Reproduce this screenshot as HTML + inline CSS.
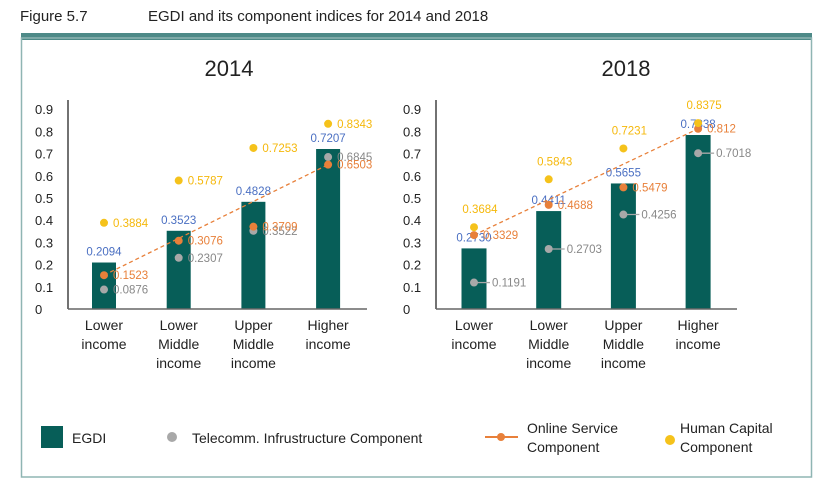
<!DOCTYPE html>
<html><head><meta charset="utf-8">
<style>
body{margin:0;background:#fff;width:830px;height:494px;overflow:hidden;font-family:"Liberation Sans",sans-serif;}
svg text{font-family:"Liberation Sans",sans-serif;}
</style></head>
<body>
<svg id="c" width="830" height="494" xmlns="http://www.w3.org/2000/svg">
<text x="20" y="21" font-size="15" fill="#222">Figure 5.7</text>
<text x="148" y="21" font-size="15" fill="#222">EGDI and its component indices for 2014 and 2018</text>
<rect x="21" y="33" width="791" height="7" fill="#4e8a88"/>
<rect x="21.5" y="38" width="790" height="439" fill="none" stroke="#8fb5b3" stroke-width="1.5"/>
<g id="legend">
<rect x="41" y="426" width="22" height="22" fill="#075e58"/>
<text x="72" y="443" font-size="14" fill="#222">EGDI</text>
<circle cx="172" cy="437" r="5" fill="#a8a8a8"/>
<text x="192" y="443" font-size="14" fill="#222">Telecomm.  Infrustructure Component</text>
<line x1="485" y1="437" x2="518" y2="437" stroke="#e8803a" stroke-width="2"/>
<circle cx="501" cy="437" r="4" fill="#e8803a"/>
<text x="527" y="433" font-size="14" fill="#222">Online Service</text>
<text x="527" y="452" font-size="14" fill="#222">Component</text>
<circle cx="670" cy="440" r="5" fill="#f5c21b"/>
<text x="680" y="433" font-size="14" fill="#222">Human Capital</text>
<text x="680" y="452" font-size="14" fill="#222">Component</text>
</g>
</svg>
<script>
const categories=[["Lower","income"],["Lower","Middle","income"],["Upper","Middle","income"],["Higher","income"]];
const years=["2014","2018"];
const egdi2014=[0.2094,0.3523,0.4828,0.7207];
const telecom2014=[0.0876,0.2307,0.3522,0.6845];
const online2014=[0.1523,0.3076,0.3709,0.6503];
const human2014=[0.3884,0.5787,0.7253,0.8343];
const egdi2018=[0.2730,0.4411,0.5655,0.7838];
const telecom2018=[0.1191,0.2703,0.4256,0.7018];
const online2018=[0.3329,0.4688,0.5479,0.812];
const human2018=[0.3684,0.5843,0.7231,0.8375];
const yTicks=[0,0.1,0.2,0.3,0.4,0.5,0.6,0.7,0.8,0.9];
const NS="http://www.w3.org/2000/svg";
const svg=document.getElementById('c');
function el(t,a,txt){const e=document.createElementNS(NS,t);for(const k in a)e.setAttribute(k,a[k]);if(txt!==undefined)e.textContent=txt;svg.appendChild(e);return e;}
const panels=[
 {year:years[0],ax:68,x0:104,step:74.7,xEnd:367,titleX:229,bw:24,egdi:egdi2014,tel:telecom2014,on:online2014,hum:human2014,late:false},
 {year:years[1],ax:436,x0:474,step:74.7,xEnd:737,titleX:626,bw:25,egdi:egdi2018,tel:telecom2018,on:online2018,hum:human2018,late:true}
];
const yBase=309,yPer=222;
function y(v){return yBase-v*yPer;}
panels.forEach((p,pi)=>{
 const fx=i=>p.x0+i*p.step;
 let t=el('text',{x:p.titleX,y:76,'font-size':22,fill:'#222','text-anchor':'middle'},p.year);
 
 
 yTicks.forEach(v=>{
  const tx=el('text',{x:p.ax-33,y:y(v)+5,'font-size':13,fill:'#222'},v===0?'0':v.toFixed(1));
  
  
 });
 p.egdi.forEach((v,i)=>{
  const r=el('rect',{x:fx(i)-p.bw/2,y:y(v),width:p.bw,height:y(0)-y(v),fill:'#075e58'});
  
  
  const l=el('text',{x:fx(i),y:y(v)-7,'font-size':11.5,fill:'#4a6fc2','text-anchor':'middle'},v.toFixed(4));
  
  
 });
 const ya=el('line',{x1:p.ax,y1:100,x2:p.ax,y2:y(0),stroke:'#444','stroke-width':1.5});
 
 
 const xa=el('line',{x1:p.ax,y1:y(0),x2:p.xEnd,y2:y(0),stroke:'#666','stroke-width':1.5});
 
 
 categories.forEach((c,i)=>{
  c.forEach((w,j)=>{
   const tx=el('text',{x:fx(i),y:330+j*19,'font-size':14,fill:'#222','text-anchor':'middle'},w);
   
   
  });
 });
 const n=p.on.length-1;
 const tl=el('line',{x1:fx(0),y1:y(p.on[0]),x2:fx(n),y2:y(p.on[n]),stroke:'#e8803a','stroke-width':1.3,'stroke-dasharray':'4,3'});
 
 
 const series=[[p.tel,'#a8a8a8','#888','telecom'],[p.on,'#e8803a','#e8803a','online'],[p.hum,'#f5c21b','#f5b80b','human']];
 series.forEach(s=>{
  s[0].forEach((v,i)=>{
   const c=el('circle',{cx:fx(i),cy:y(v),r:4,fill:s[1]});
   
   
   let a={x:fx(i)+9,y:y(v)+4,'font-size':11.5,fill:s[2]};
   if(p.late&&s[3]==='human'){a.x=fx(i)+6;a.y=y(v)-14;a['text-anchor']='middle';}
   if(p.late&&s[3]==='telecom'){
    const ld=el('line',{x1:fx(i),y1:y(v),x2:fx(i)+16,y2:y(v),stroke:'#a8a8a8','stroke-width':1.3});
    
    
    a.x=fx(i)+18;
   }
   const l=el('text',a,String(v));
   
   
  });
 });
});
</script>
</body></html>
